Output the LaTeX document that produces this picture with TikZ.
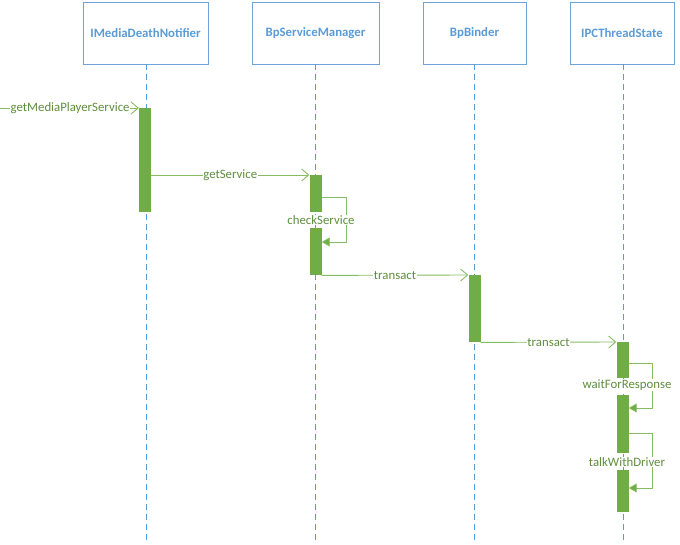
\documentclass[tikz,border=0pt]{standalone}
\usepackage{fontspec}
\setmainfont{Carlito}
\usetikzlibrary{arrows.meta}
\definecolor{boxblue}{HTML}{6FA4D8}
\definecolor{txtblue}{HTML}{5B9BD5}
\definecolor{bargreen}{HTML}{70AD47}
\definecolor{linegreen}{HTML}{86BC62}
\definecolor{txtgreen}{HTML}{5E8F3C}
\begin{document}
\begin{tikzpicture}[x=1pt,y=-1pt,
  objbox/.style={draw=boxblue, line width=0.9pt, minimum height=62pt, inner sep=0pt,
     font=\fontsize{12.8}{14}\selectfont\bfseries, text=txtblue},
  lifeline/.style={draw=txtblue, line width=0.7pt, dash pattern=on 6pt off 4pt},
  actbar/.style={fill=bargreen, draw=none, minimum width=12pt, inner sep=0pt, anchor=north},
  msg/.style={draw=linegreen, line width=0.9pt, -{Straight Barb[length=7pt,width=12pt,line width=0.9pt]}},
  selfmsg/.style={draw=linegreen, line width=0.9pt, -{Triangle[length=8pt,width=9pt,fill=bargreen]}},
  lbl/.style={fill=white, inner sep=0.5pt, text=txtgreen, font=\fontsize{12.8}{14}\selectfont}]
\useasboundingbox (0,0) rectangle (680,545);
\node[objbox, minimum width=125pt] (A) at (145.5,33) {IMediaDeathNotifier};
\node[objbox, minimum width=127pt] (B) at (315.5,33) {BpServiceManager};
\node[objbox, minimum width=103pt] (C) at (474.5,33) {BpBinder};
\node[objbox, minimum width=104pt] (D) at (622,33) {IPCThreadState};
\coordinate (Ae) at (146,540);
\coordinate (Be) at (315,540);
\coordinate (Ce) at (474,540);
\coordinate (De) at (623,540);
\draw[lifeline] (A.south -| Ae) -- (Ae);
\draw[lifeline] (B.south -| Be) -- (Be);
\draw[lifeline] (C.south -| Ce) -- (Ce);
\draw[lifeline] (D.south -| De) -- (De);
% activation bars
\node[actbar, minimum height=104pt] (a1) at (145,108) {};
\node[actbar, minimum height=37pt] (b1) at (315.5,175) {};
\node[actbar, minimum height=47pt] (b2) at (315.5,228) {};
\node[actbar, minimum height=67pt] (c1) at (474.5,275) {};
\node[actbar, minimum height=36pt] (d1) at (622.5,342) {};
\node[actbar, minimum height=58pt] (d2) at (622.5,395) {};
\node[actbar, minimum height=42pt] (d3) at (622.5,470) {};
% messages
\coordinate (start) at (0,108);
\draw[msg] (start) -- node[lbl, pos=0.505]{getMediaPlayerService} (a1.north west);
\draw[msg] (a1.east |- b1.north west) -- node[lbl, pos=0.5]{getService} (b1.north west);
\draw[msg] (b2.south east) -- node[lbl]{transact} (c1.north west);
\draw[msg] (c1.south east) -- node[lbl]{transact} (d1.north west);
% self calls
\coordinate (cs1) at (346,197);
\coordinate (cs2) at (346,242);
\draw[selfmsg] (b1.east |- cs1) -- (cs1) -- (cs2) -- (b2.east |- cs2);
\node[lbl] (csl) at (321,220) {checkService};
\coordinate (wf1) at (652,363);
\coordinate (wf2) at (652,408);
\draw[selfmsg] (d1.east |- wf1) -- (wf1) -- (wf2) -- (d2.east |- wf2);
\node[lbl] (wfl) at (627,385) {waitForResponse};
\coordinate (tw1) at (652,433);
\coordinate (tw2) at (652,488);
\draw[selfmsg] (d2.east |- tw1) -- (tw1) -- (tw2) -- (d3.east |- tw2);
\node[lbl] (twl) at (627,462) {talkWithDriver};
\end{tikzpicture}
\end{document}
